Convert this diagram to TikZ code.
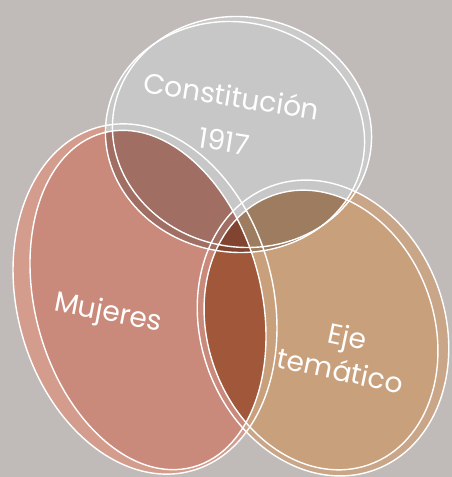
\documentclass[tikz,border=0pt]{standalone}
\usepackage{fontspec}
\setmainfont{Poppins}
\definecolor{bgcol}{HTML}{C0BBB8}
\definecolor{topcol}{HTML}{C7C7C8}
\definecolor{toprim}{HTML}{CACACB}
\definecolor{mujcol}{HTML}{C98A7B}
\definecolor{mujrim}{HTML}{D49C8D}
\definecolor{ejecol}{HTML}{C9A07C}
\definecolor{ejerim}{HTML}{C9A688}
\definecolor{mtcol}{HTML}{A06E62}
\definecolor{etcol}{HTML}{9E7C5F}
\definecolor{mecol}{HTML}{A0573A}
\definecolor{metcol}{HTML}{804430}
\tikzset{
  edge/.style={draw=white, line width=0.8pt},
  venntext/.style={text=white, font=\fontsize{16}{20}\selectfont, align=center, inner sep=0pt}
}

\begin{document}
\begin{tikzpicture}[x=0.02cm,y=0.02cm]

\useasboundingbox (0,0) rectangle (452,477);
\clip (0,0) rectangle (452,477);
\fill[bgcol] (0,0) rectangle (452,477);

% rims
\fill[toprim] (242,345) ellipse [x radius=130, y radius=115, rotate=-10];
\fill[mujrim] (145,178) ellipse [x radius=128, y radius=178, rotate=15];
\fill[ejerim] (323,149) ellipse [x radius=122, y radius=151, rotate=20];

% faces
\fill[topcol] (235,340) ellipse [x radius=130, y radius=115, rotate=-10];
\fill[mujcol] (148,177) ellipse [x radius=113, y radius=173, rotate=15];
\fill[ejecol] (321,147) ellipse [x radius=113, y radius=143, rotate=20];

% overlaps
\begin{scope}
  \clip (235,340) ellipse [x radius=130, y radius=115, rotate=-10];
  \fill[mtcol] (148,177) ellipse [x radius=113, y radius=173, rotate=15];
  \fill[etcol] (321,147) ellipse [x radius=113, y radius=143, rotate=20];
\end{scope}
\begin{scope}
  \clip (148,177) ellipse [x radius=113, y radius=173, rotate=15];
  \fill[mecol] (321,147) ellipse [x radius=113, y radius=143, rotate=20];
  \clip (235,340) ellipse [x radius=130, y radius=115, rotate=-10];
  \fill[metcol] (321,147) ellipse [x radius=113, y radius=143, rotate=20];
\end{scope}

% outlines
\draw[edge] (242,345) ellipse [x radius=130, y radius=115, rotate=-10];
\draw[edge] (235,340) ellipse [x radius=130, y radius=115, rotate=-10];
\draw[edge] (145,178) ellipse [x radius=128, y radius=178, rotate=15];
\draw[edge] (148,177) ellipse [x radius=113, y radius=173, rotate=15];
\draw[edge] (323,149) ellipse [x radius=122, y radius=151, rotate=20];
\draw[edge] (321,147) ellipse [x radius=113, y radius=143, rotate=20];

% texts
\node[venntext, rotate=-9] (constitucion) at (228,359) {Constitución\\[6pt]1917};
\node[venntext, rotate=-11] (mujeres) at (108,163) {Mujeres};
\node[venntext, rotate=-12] (eje) at (344,124) {Eje\\temático};

\end{tikzpicture}
\end{document}
